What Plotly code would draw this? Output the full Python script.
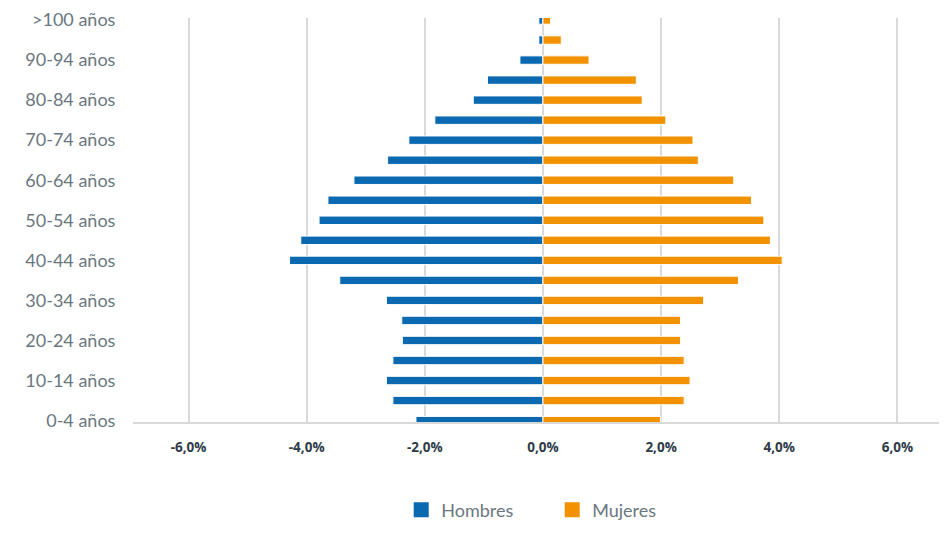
import plotly.graph_objects as go

age_groups = ["0-4 años", "5-9 años", "10-14 años", "15-19 años", "20-24 años",
              "25-29 años", "30-34 años", "35-39 años", "40-44 años", "45-49 años",
              "50-54 años", "55-59 años", "60-64 años", "65-69 años", "70-74 años",
              "75-79 años", "80-84 años", "85-89 años", "90-94 años", "95-99 años",
              ">100 años"]

hombres = [-2.15, -2.54, -2.65, -2.54, -2.38, -2.39, -2.65, -3.44, -4.29, -4.10,
           -3.79, -3.64, -3.20, -2.63, -2.27, -1.83, -1.18, -0.94, -0.39, -0.07,
           -0.07]

mujeres = [1.99, 2.39, 2.49, 2.39, 2.33, 2.33, 2.72, 3.31, 4.05, 3.85,
           3.74, 3.53, 3.23, 2.63, 2.54, 2.08, 1.68, 1.58, 0.78, 0.31,
           0.13]

x_tickvals = [-6, -4, -2, 0, 2, 4, 6]
x_ticktext = ["-6,0%", "-4,0%", "-2,0%", "0,0%", "2,0%", "4,0%", "6,0%"]
y_ticklabels = age_groups[::2]

BLUE = "#0b69b1"
ORANGE = "#f39200"
LABEL_FONT = "Lato, sans-serif"

fig = go.Figure()
fig.add_trace(go.Bar(
    y=age_groups, x=hombres, orientation="h", name="Hombres", showlegend=False,
    marker=dict(color=BLUE, line=dict(color="white", width=1)),
))
fig.add_trace(go.Bar(
    y=age_groups, x=mujeres, orientation="h", name="Mujeres", showlegend=False,
    marker=dict(color=ORANGE, line=dict(color="white", width=1)),
))
# legend entries (square swatches)
for name, col in [("Hombres", BLUE), ("Mujeres", ORANGE)]:
    fig.add_trace(go.Scatter(
        x=[None], y=[None], mode="markers", name=name, showlegend=True,
        marker=dict(symbol="square", size=15, color=col),
    ))

# page body has an 8px margin: figure is sized/placed to compensate
fig.update_layout(
    width=939, height=531,
    margin=dict(l=125, r=0, t=5, b=116),
    paper_bgcolor="white", plot_bgcolor="white",
    barmode="relative", bargap=0.58,
    font=dict(family=LABEL_FONT, color="#6b7780"),
    showlegend=True,
    legend=dict(orientation="h", x=0.515, xanchor="center", y=-0.215, yanchor="middle",
                font=dict(size=18, color="#6b7780", family=LABEL_FONT),
                entrywidth=106, traceorder="normal"),
)

fig.update_xaxes(
    range=[-6.94, 6.84],
    tickmode="array", tickvals=x_tickvals, ticktext=x_ticktext,
    showgrid=True, gridcolor="#d9d9d9", gridwidth=1.5,
    zeroline=False,
    showline=False,
    ticks="outside", ticklen=12, tickcolor="rgba(0,0,0,0)",
    tickfont=dict(size=13.5, color="#2e3b48", family="Open Sans, sans-serif", weight="bold"),
)

fig.update_yaxes(
    type="category",
    categoryorder="array", categoryarray=age_groups,
    range=[-0.12, 20.1],
    tickmode="array", tickvals=y_ticklabels, ticktext=y_ticklabels,
    showgrid=False, zeroline=False,
    showline=False,
    ticks="outside", ticklen=13, tickcolor="rgba(0,0,0,0)",
    tickfont=dict(size=18, color="#6b7780", family=LABEL_FONT),
)

# bottom axis line drawn along the x axis
fig.add_shape(type="line", xref="paper", yref="paper", x0=0, x1=1, y0=0, y1=0,
              line=dict(color="#d9d9d9", width=2))

fig.write_html("out.html")
